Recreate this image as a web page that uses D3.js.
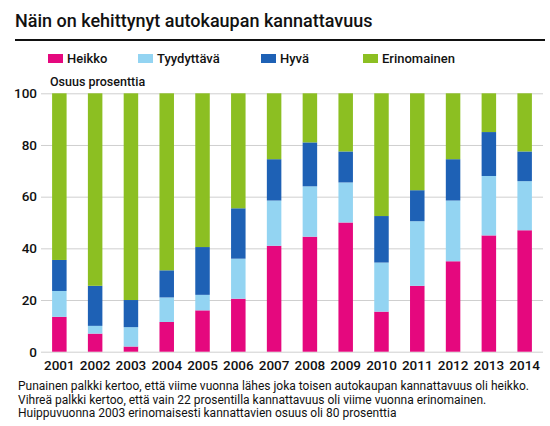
<!DOCTYPE html>
<html><head><meta charset="utf-8">
<script src="https://cdn.jsdelivr.net/npm/d3@7"></script>
<style>
body{margin:0;background:#fff;}
text{font-family:"Roboto","Open Sans",sans-serif;fill:#111;}
</style></head>
<body><svg id="c" width="550" height="426"></svg>
<script>
const years = ["2001","2002","2003","2004","2005","2006","2007","2008","2009","2010","2011","2012","2013","2014"];
const heikko      = [13.5, 7, 2, 11.5, 16, 20.5, 41, 44.5, 50, 15.5, 25.5, 35, 45, 47];
const tyydyttava  = [10, 3, 7.5, 9.5, 6, 15.5, 17.5, 19.5, 15.5, 19, 25, 23.5, 23, 19];
const hyva        = [12, 15.5, 10.5, 10.5, 18.5, 19.5, 16, 17, 12, 18, 12, 16, 17, 11.5];
const erinomainen = [64.5, 74.5, 80, 68.5, 59.5, 44.5, 25.5, 19, 22.5, 47.5, 37.5, 25.5, 15, 22.5];
const seriesNames = ["Heikko","Tyydyttävä","Hyvä","Erinomainen"];
const colors = ["#e5087e","#93d4f2","#1e61b5","#8cbf22"];
const yTicks = [0,20,40,60,80,100];
const title = "Näin on kehittynyt autokaupan kannattavuus";
const yLabel = "Osuus prosenttia";
const notes = [
 "Punainen palkki kertoo, että viime vuonna lähes joka toisen autokaupan kannattavuus oli heikko.",
 "Vihreä palkki kertoo, että vain 22 prosentilla kannattavuus oli viime vuonna erinomainen.",
 "Huippuvuonna 2003 erinomaisesti kannattavien osuus oli 80 prosenttia"
];

const svg = d3.select("#c");
const rows = years.map((y,i)=>({year:y, Heikko:heikko[i], "Tyydyttävä":tyydyttava[i], "Hyvä":hyva[i], Erinomainen:erinomainen[i]}));
const stack = d3.stack().keys(seriesNames)(rows);

const x = d3.scaleBand().domain(years).range([41,543]).paddingInner(0.595).paddingOuter(0.31);
const y = d3.scaleLinear().domain([0,100]).range([351.7,93.3]);
const color = d3.scaleOrdinal().domain(seriesNames).range(colors);

// title
svg.append("text").attr("x",15).attr("y",27).style("font-size","18px").style("font-weight","500").text(title);
svg.append("line").attr("x1",15).attr("x2",545).attr("y1",40).attr("y2",40).attr("stroke","#111").attr("stroke-width",2);

// legend
const legX = [48,138,261,363];
seriesNames.forEach((s,i)=>{
  const g = svg.append("g").attr("transform",`translate(${legX[i]},54)`);
  g.append("rect").attr("width",15).attr("height",9).attr("fill",colors[i]);
  g.append("text").attr("x",19).attr("y",9).style("font-size","13px").style("font-weight","500").text(s);
});
svg.append("text").attr("x",50).attr("y",86).style("font-size","12.5px").style("font-weight","500").text(yLabel);

// grid
const yAxis = d3.axisLeft(y).tickValues(yTicks).tickSize(-(543-41)).tickPadding(6);
const ga = svg.append("g").attr("transform","translate(41,0)").call(yAxis);
ga.select(".domain").remove();
ga.selectAll(".tick line").attr("stroke","#cfcfcf").attr("stroke-width",1);
ga.selectAll(".tick text").style("font-size","13.5px").style("font-family","Roboto,sans-serif").style("font-weight","500").attr("fill","#111").attr("x",-4);

// bars
svg.append("g").selectAll("g").data(stack).join("g").attr("fill",d=>color(d.key))
  .selectAll("rect").data(d=>d).join("rect")
  .attr("x",d=>x(d.data.year)).attr("width",x.bandwidth())
  .attr("y",d=>y(d[1])).attr("height",d=>y(d[0])-y(d[1]));

// x axis
const xAxis = d3.axisBottom(x).tickSize(0).tickPadding(9);
const gx = svg.append("g").attr("transform","translate(0,351.7)").call(xAxis);
gx.select(".domain").remove();
gx.selectAll(".tick text").style("font-size","13.5px").style("font-family","Roboto,sans-serif").style("font-weight","500").attr("fill","#111");

// notes
notes.forEach((n,i)=>{
  svg.append("text").attr("x",18).attr("y",390+i*13.5).style("font-size","12px").text(n);
});
</script></body></html>
